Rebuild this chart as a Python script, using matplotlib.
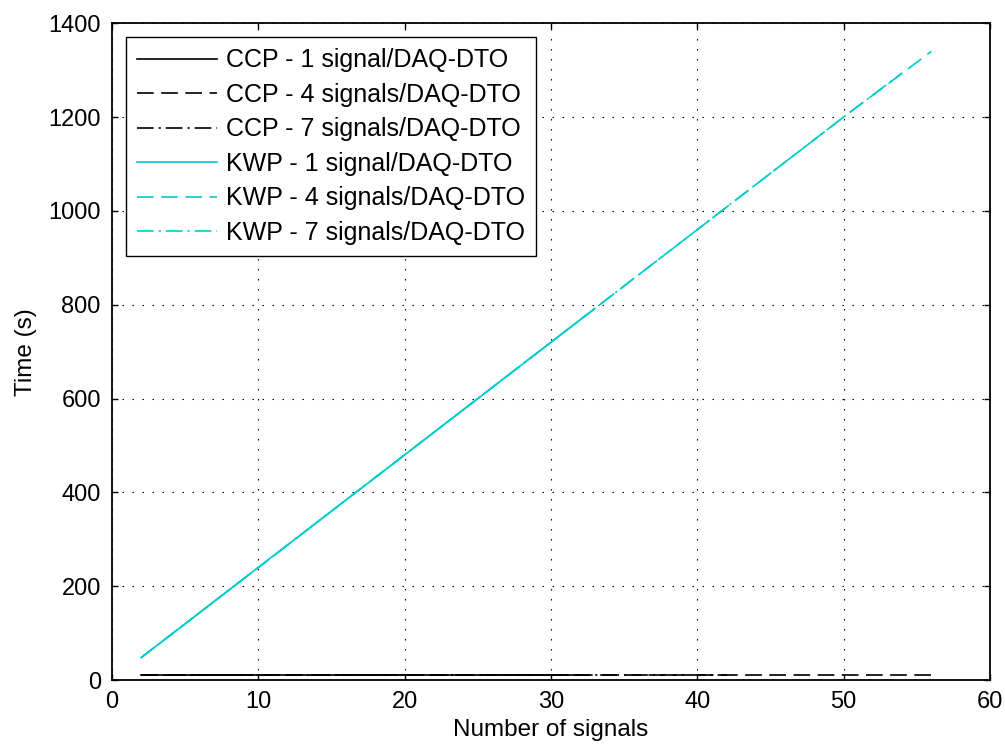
import matplotlib
matplotlib.use('Agg')
import matplotlib.pyplot as plt

plt.rcParams['font.family'] = ['Liberation Sans', 'DejaVu Sans']

# CCP (black) - time stays near 10 s
ccp1_n = [2, 10, 20, 32]
ccp1_t = [10, 10, 10, 10]
ccp4_n = [2, 10, 20, 30, 40, 50, 56]
ccp4_t = [10, 10, 10, 10, 10, 10, 10]
ccp7_n = [2, 10, 20, 30, 42]
ccp7_t = [10, 10, 10, 10, 10]

# KWP (cyan) - grows linearly
kwp1_n = [2, 10, 20, 33]
kwp1_t = [48, 240, 480, 792]
kwp4_n = [2, 10, 20, 30, 40, 50, 56]
kwp4_t = [48, 240, 480, 720, 960, 1200, 1340]
kwp7_n = [2, 10, 20, 30, 40, 50, 54]
kwp7_t = [48, 240, 480, 720, 960, 1200, 1294]

labels = ['CCP - 1 signal/DAQ-DTO', 'CCP - 4 signals/DAQ-DTO', 'CCP - 7 signals/DAQ-DTO',
          'KWP - 1 signal/DAQ-DTO', 'KWP - 4 signals/DAQ-DTO', 'KWP - 7 signals/DAQ-DTO']

xticks = [0, 10, 20, 30, 40, 50, 60]
yticks = [0, 200, 400, 600, 800, 1000, 1200, 1400]

solid = '-'
dashed = (0, (10, 4.5))
dashdot = (0, (10, 3, 1.3, 3))
cyan = '#00cccc'

fig = plt.figure(figsize=(10.05, 7.49), dpi=100)
ax = fig.add_axes([0.1114, 0.092, 0.8736, 0.877])

ax.plot(ccp1_n, ccp1_t, color='k', ls=solid, lw=1.2, label=labels[0])
ax.plot(ccp4_n, ccp4_t, color='k', ls=dashed, lw=1.2, label=labels[1])
ax.plot(ccp7_n, ccp7_t, color='k', ls=dashdot, lw=1.2, label=labels[2])
ax.plot(kwp1_n, kwp1_t, color=cyan, ls=solid, lw=1.2, label=labels[3])
ax.plot(kwp4_n, kwp4_t, color=cyan, ls=dashed, lw=1.2, label=labels[4])
ax.plot(kwp7_n, kwp7_t, color=cyan, ls=dashdot, lw=1.2, label=labels[5])

ax.set_xlim(0, 60)
ax.set_ylim(0, 1400)
ax.set_xticks(xticks)
ax.set_yticks(yticks)
ax.tick_params(direction='in', length=4.5, width=1.0, top=True, right=True,
               labelsize=17, pad=8)
for s in ax.spines.values():
    s.set_linewidth(1.3)
ax.grid(True, color='k', linestyle=(0, (1.3, 7.7)), linewidth=0.8)

ax.set_xlabel('Number of signals', fontsize=17.5, labelpad=4)
ax.set_ylabel('Time (s)', fontsize=17.5, labelpad=8)

leg = ax.legend(loc='upper left', bbox_to_anchor=(0.016, 0.979), borderaxespad=0,
                fontsize=18, handlelength=3.2, handletextpad=0.35,
                labelspacing=0.42, borderpad=0.45, fancybox=False, framealpha=1)
leg.get_frame().set_edgecolor('k')
leg.get_frame().set_linewidth(1.0)

fig.savefig('out.png', dpi=100)
